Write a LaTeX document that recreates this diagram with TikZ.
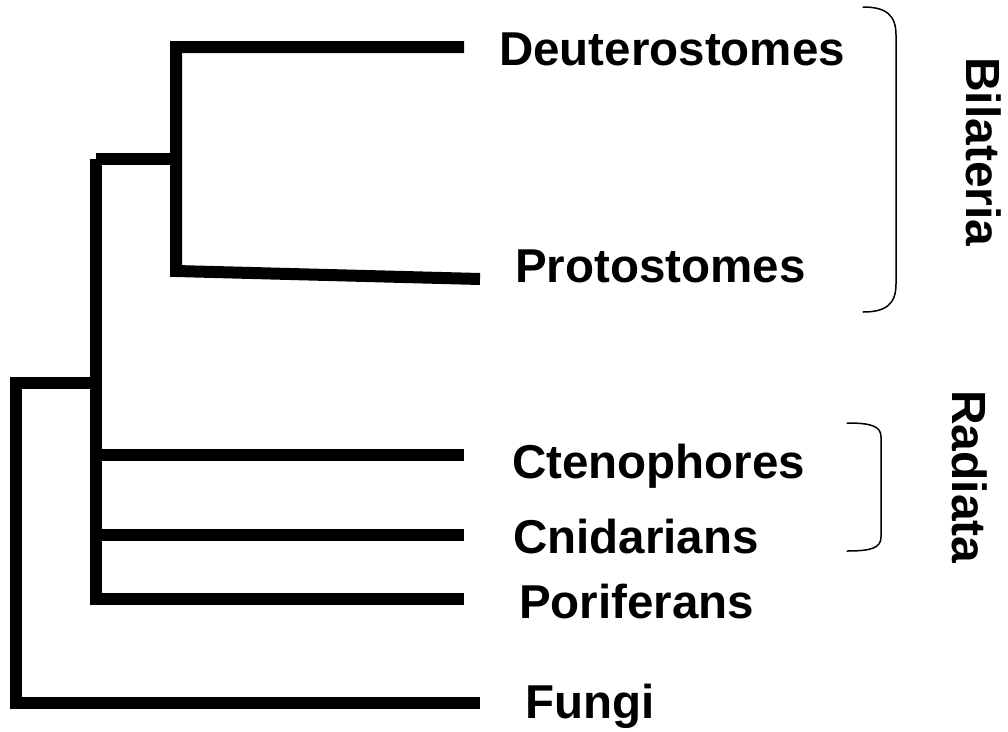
\documentclass[tikz,border=0pt]{standalone}
\usepackage{fontspec}
\setmainfont{Liberation Sans}
\begin{document}
\begin{tikzpicture}[x=1pt,y=-1pt,
  branch/.style={line width=12pt,line join=miter,line cap=butt},
  bracket/.style={line width=1.5pt,line cap=round},
  taxon/.style={anchor=base west,inner sep=0pt,font=\fontsize{47.5}{52}\selectfont\bfseries},
  clade/.style={anchor=base west,inner sep=0pt,rotate=-90,font=\fontsize{48}{52}\selectfont\bfseries}]
\useasboundingbox (0,0) rectangle (1008,731);

% internal nodes of the tree
\coordinate (root) at (16,383);
\coordinate (metazoa) at (96,383);
\coordinate (bil) at (96,159);
\coordinate (bilfork) at (176,159);

% branch tips
\coordinate (tDeu) at (464,47);
\coordinate (tPro) at (480,279);
\coordinate (tCte) at (464,455);
\coordinate (tCni) at (464,535);
\coordinate (tPor) at (464,599);
\coordinate (tFun) at (480,703);

% taxon labels
\node[taxon] (deu) at (499,65) {Deuterostomes};
\node[taxon] (pro) at (515,282) {Protostomes};
\node[taxon] (cte) at (512,478) {Ctenophores};
\node[taxon] (cni) at (513,553) {Cnidarians};
\node[taxon] (por) at (519,618) {Poriferans};
\node[taxon] (fun) at (525,718) {Fungi};

% clade labels
\node[clade] (bilat) at (966,57) {Bilateria};
\node[clade] (radi) at (952,390) {Radiata};

% branches
\draw[branch] (tDeu) -- (bilfork |- tDeu) -- (bilfork |- 0,271) -- (tPro);
\draw[branch] (bil) -- (bilfork);
\draw[branch] (tPor) -- (bil |- tPor) -- (bil);
\draw[branch] (bil |- tCte) -- (tCte);
\draw[branch] (bil |- tCni) -- (tCni);
\draw[branch] (metazoa) -- (root) -- (root |- tFun) -- (tFun);

% clade brackets
\draw[bracket] (863,7) .. controls (886,7) and (896,15) .. (896,35)
  -- (896,284) .. controls (896,304) and (886,312) .. (863,312);
\draw[bracket] (847,423) .. controls (871,423) and (881,426) .. (881,437)
  -- (881,537) .. controls (881,548) and (871,551) .. (847,551);
\end{tikzpicture}
\end{document}
